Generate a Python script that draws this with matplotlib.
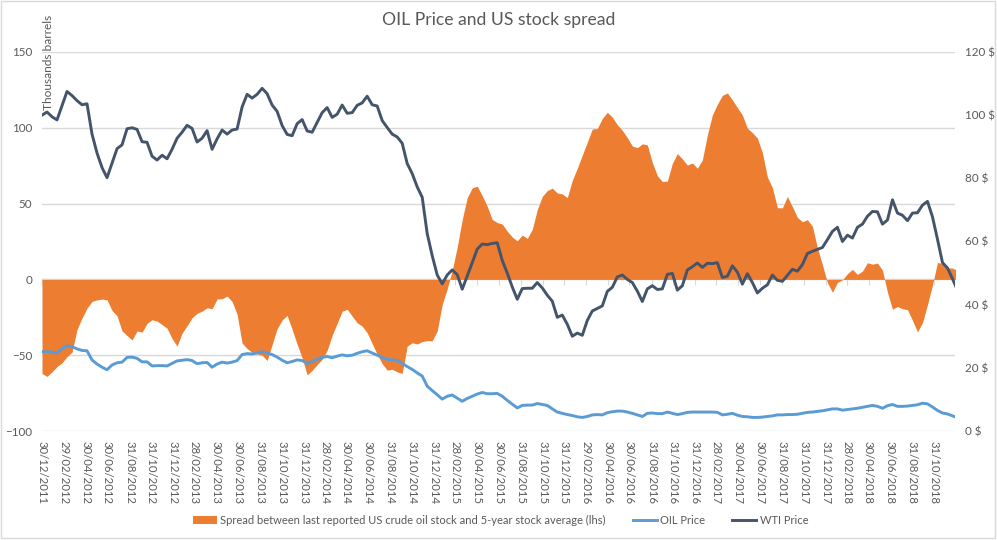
import pandas as pd
import matplotlib
matplotlib.use("Agg")
import matplotlib.pyplot as plt
import matplotlib.dates as mdates
from matplotlib.patches import Rectangle, Patch
from matplotlib.lines import Line2D

plt.rcParams['font.family'] = ['Lato', 'DejaVu Sans']

# datos quincenales, desde 30/12/2011
fechas = pd.date_range('2011-12-30', periods=184, freq='14D')

# spread vs media de 5 años (miles de barriles, eje izquierdo)
spread = [-62, -64, -61, -57.5, -55, -51, -48, -33, -25.5, -19,
          -14.5, -13.5, -13, -13.5, -20.5, -24, -34, -37, -40, -34,
          -34.8, -29, -26.6, -27.5, -29.8, -32.2, -39, -44, -35.5, -30.5,
          -25.3, -22.4, -20.9, -18.7, -19.3, -12.9, -12.8, -11, -14.6, -23,
          -42, -45.6, -48.2, -49.2, -50, -53.5, -43, -32.5, -26.8, -23.7,
          -33, -42.8, -51.7, -63, -60, -56.2, -52.8, -46.8, -36.8, -29,
          -21, -19.7, -24.2, -28.6, -30.8, -35.2, -42.4, -49.3, -55.6, -59.8,
          -59.3, -61, -62, -44, -41.8, -42.6, -41, -40.4, -40.5, -34,
          -16.5, -6.2, 6, 21.3, 39.5, 53.9, 60.4, 61.5, 55.2, 48.2,
          39.5, 37.5, 36.5, 31.8, 28, 25.4, 29.3, 27, 33, 46,
          54.7, 58.6, 60.2, 57, 56.4, 53.9, 65.3, 73.3, 82, 90.5,
          99.2, 99.5, 106.2, 110.2, 107.1, 102, 98.3, 93.5, 88, 86.9,
          89.4, 88.7, 77.1, 68.4, 64.6, 64.8, 76.5, 83, 79.5, 75.4,
          76.8, 73.3, 78.8, 95.2, 108.5, 115.5, 121.4, 123, 118.4, 113.3,
          108.4, 99.7, 96.8, 93.2, 83.6, 67.5, 60.5, 47.3, 47.2, 54.7,
          47.9, 40.9, 38, 39.4, 35, 20.8, 9.6, -2.2, -8.5, -2,
          -0.3, 3.8, 6.6, 3.3, 5.5, 11, 10, 10.8, 6, -8.5,
          -19.7, -17.9, -19.3, -20, -27, -34.6, -28.5, -16.6, -3.6, 11.2,
          10.4, 7.7, 7.4, 6]

# precios (eje derecho, $)
oil_price = [25.1, 25.1, 25, 24.7, 26, 27, 26.7, 26, 25.5, 25.4,
             22.5, 21.2, 20.2, 19.4, 20.9, 21.6, 21.8, 23.3, 23.4, 23,
             21.9, 21.9, 20.6, 20.7, 20.7, 20.6, 21.4, 22.2, 22.4, 22.6,
             22.3, 21.3, 21.6, 21.7, 20.2, 21.2, 21.8, 21.5, 21.8, 22.3,
             24.2, 24.5, 24.4, 24.7, 25.1, 24.7, 24.2, 23.4, 22.4, 21.6,
             22, 22.5, 22.3, 21.4, 22, 22.7, 23.3, 23.6, 23.2, 23.7,
             24.1, 23.8, 24, 24.6, 25.1, 25.4, 24.7, 24, 23.3, 22.7,
             22.5, 22.4, 21.4, 20.4, 19.5, 18.4, 17.4, 14.2, 12.8, 11.5,
             10.1, 11, 11.4, 10.4, 9.4, 10.3, 11, 11.7, 12.2, 11.8,
             11.8, 11.9, 11, 9.7, 8.5, 7.3, 8.1, 8.2, 8.2, 8.7,
             8.4, 8.1, 7, 6, 5.6, 5.2, 4.9, 4.5, 4.3, 4.6,
             5.1, 5.2, 5.1, 5.8, 6.1, 6.3, 6.3, 6, 5.6, 5.1,
             4.6, 5.6, 5.7, 5.5, 5.5, 6, 5.6, 5.2, 5.5, 5.9,
             6, 6, 6, 6, 6, 5.9, 5.1, 5.3, 5.6, 5,
             4.6, 4.5, 4.3, 4.3, 4.4, 4.6, 4.8, 5.1, 5.1, 5.2,
             5.2, 5.3, 5.6, 5.9, 6, 6.2, 6.4, 6.7, 7, 7,
             6.6, 6.8, 7, 7.2, 7.5, 7.8, 8.1, 7.8, 7.2, 8,
             8.4, 7.8, 7.8, 7.9, 8.1, 8.3, 8.8, 8.6, 7.6, 6.5,
             5.7, 5.4, 4.8, 4.2]

wti_price = [100, 101, 99.5, 98.5, 103, 107.5, 106.2, 104.6, 103.3, 103.6,
             94, 88, 83.4, 80.2, 84.8, 89.4, 90.6, 95.7, 96, 95.5,
             91.6, 91.4, 87, 85.8, 87.3, 86.2, 89.2, 92.7, 94.6, 96.8,
             95.8, 91.5, 92.7, 95.1, 89.2, 92.5, 95.3, 94, 95.3, 95.6,
             102.6, 106.6, 105.4, 106.6, 108.5, 106.8, 103.2, 101.2, 96.7, 93.9,
             93.5, 97.3, 98.6, 95, 94.6, 97.7, 100.8, 102.4, 99.3, 100.3,
             103.2, 100.6, 100.8, 103.1, 103.9, 106, 103.3, 102.9, 98.3, 96.1,
             94, 93.1, 91.1, 84.7, 81.5, 77.3, 74, 62.5, 55.5, 49.4,
             46.6, 49.4, 51, 49.5, 44.9, 49.1, 53.3, 57.6, 59.2, 59,
             59.4, 59.6, 54, 50, 45.6, 41.7, 45.1, 45.2, 45.2, 47,
             45.3, 43, 41.1, 36, 36.7, 33.8, 30, 31, 30.3, 35,
             38, 38.8, 39.6, 44.2, 45.5, 48.8, 49.4, 48, 47, 44.3,
             41, 45, 46, 44.8, 45, 49.6, 49.9, 44.6, 46, 51,
             52, 53.2, 51.8, 53.1, 53, 53.3, 48.6, 49, 52.3, 50.3,
             46.5, 49.8, 47, 43.7, 45.2, 46.3, 49.4, 47.7, 47.4, 49.3,
             51.2, 50.6, 52.7, 56.2, 56.9, 57.5, 58.1, 60.6, 63.2, 64.5,
             60, 62, 61.1, 64.5, 65.5, 68, 69.5, 69.4, 65.5, 66.8,
             73.2, 69, 68.3, 66.6, 69, 69.1, 71.5, 72.7, 67.8, 60.7,
             53.3, 51.6, 48.2, 44.5]

# etiquetas del eje x: cada dos meses (fin de mes)
ticks_x = [pd.Timestamp('2011-12-30')] + [d + pd.offsets.MonthEnd(0) for d in pd.date_range('2012-02-01', '2018-10-01', freq='2MS')]
ticks_izq = [-100, -50, 0, 50, 100, 150]
ticks_der = [0, 20, 40, 60, 80, 100, 120]

naranja = '#ED7D31'
azul = '#5B9BD5'
oscuro = '#44546A'
gris = '#595959'
rejilla = '#D9D9D9'

fig = plt.figure(figsize=(9.97, 5.4), dpi=100)
ax = fig.add_axes([42/997, 109/540, 913/997, 379/540])

ax.fill_between(fechas, spread, 0, color=naranja, lw=0, zorder=2)
ax.set_ylim(-100, 150)
ax.set_yticks(ticks_izq)
ax.set_xlim(fechas[0], pd.Timestamp('2018-12-28'))
ax.grid(axis='y', color=rejilla, lw=1)
ax.set_axisbelow(True)
for s in ax.spines.values():
    s.set_visible(False)
ax.tick_params(axis='y', length=0, pad=7, labelsize=8.4, labelcolor=gris)
ax.set_xticks(ticks_x)
ax.set_xticklabels([d.strftime('%d/%m/%Y') for d in ticks_x], rotation=-90, fontsize=8.2, color=gris)
ax.tick_params(axis='x', length=0, pad=7)

# linea del cero con marcas
eje0 = ax.secondary_xaxis(0.4)
eje0.set_xticks(mdates.date2num(ticks_x))
eje0.tick_params(axis='x', direction='out', length=4, color=rejilla, labelbottom=False, labeltop=False)
for s in eje0.spines.values():
    s.set_color(rejilla)

ax2 = ax.twinx()
ax2.plot(fechas, oil_price, color=azul, lw=2.1, zorder=3)
ax2.plot(fechas, wti_price, color=oscuro, lw=2.1, zorder=4)
ax2.set_ylim(0, 120)
ax2.set_yticks(ticks_der)
ax2.set_yticklabels([f'{v} $' for v in ticks_der])
ax2.tick_params(axis='y', length=0, pad=7, labelsize=8.4, labelcolor=gris)
for s in ax2.spines.values():
    s.set_visible(False)
ax2.set_xlim(fechas[0], pd.Timestamp('2018-12-28'))

fig.text(0.5, 1 - 20/540, 'OIL Price and US stock spread', ha='center', va='center', fontsize=12.6, color=gris)
fig.text(48/997, 1 - 15/540, 'Thousands barrels', rotation=90, ha='center', va='top', fontsize=8.6, color=gris)

handles = [Patch(color=naranja, lw=0),
           Line2D([], [], color=azul, lw=2.1),
           Line2D([], [], color=oscuro, lw=2.1)]
etiquetas = ['Spread between last reported US crude oil stock and 5-year stock average (lhs)', 'OIL Price', 'WTI Price']
fig.legend(handles, etiquetas, loc='center', bbox_to_anchor=(0.502, 1 - 520/540), ncol=3, frameon=False,
           fontsize=8.0, labelcolor=gris, handlelength=2.2, handletextpad=0.3, columnspacing=2.4)

fig.patches.append(Rectangle((0.001, 0.004), 0.997, 0.994, transform=fig.transFigure, fill=False, ec=rejilla, lw=1))

fig.savefig('out.png', dpi=100)
